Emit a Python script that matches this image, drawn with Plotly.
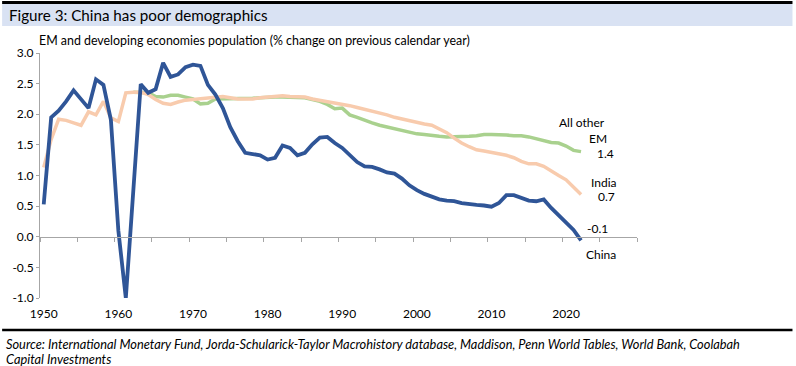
import plotly.graph_objects as go

years = list(range(1950, 2023))

china = [0.53, 1.95, 2.06, 2.21, 2.39, 2.25, 2.10, 2.57, 2.48, 1.91,
         0.10, -1.00, 0.80, 2.49, 2.35, 2.41, 2.84, 2.61, 2.65, 2.77,
         2.81, 2.79, 2.48, 2.32, 2.10, 1.79, 1.56, 1.37, 1.35, 1.33,
         1.26, 1.29, 1.49, 1.45, 1.33, 1.37, 1.51, 1.62, 1.63, 1.53,
         1.45, 1.34, 1.22, 1.15, 1.14, 1.10, 1.05, 1.03, 0.95, 0.84,
         0.76, 0.70, 0.65, 0.61, 0.59, 0.58, 0.55, 0.53, 0.52, 0.51,
         0.49, 0.55, 0.68, 0.68, 0.64, 0.59, 0.58, 0.61, 0.47, 0.35,
         0.24, 0.11, -0.06]

india = [1.13, 1.59, 1.92, 1.90, 1.86, 1.82, 2.04, 1.99, 2.21, 1.94,
         1.88, 2.35, 2.36, 2.36, 2.32, 2.24, 2.18, 2.16, 2.20, 2.23,
         2.24, 2.25, 2.26, 2.28, 2.29, 2.27, 2.25, 2.25, 2.25, 2.27,
         2.28, 2.30, 2.30, 2.29, 2.28, 2.28, 2.25, 2.23, 2.21, 2.19,
         2.17, 2.14, 2.11, 2.08, 2.06, 2.02, 1.99, 1.95, 1.92, 1.89,
         1.86, 1.84, 1.82, 1.76, 1.70, 1.61, 1.53, 1.47, 1.42, 1.40,
         1.38, 1.36, 1.33, 1.29, 1.23, 1.19, 1.19, 1.15, 1.07, 1.00,
         0.93, 0.80, 0.69]

other_years = list(range(1962, 2023))
other_em = [2.36, 2.36, 2.35, 2.29, 2.28, 2.31, 2.31, 2.28,
            2.25, 2.17, 2.18, 2.25, 2.25, 2.25, 2.25, 2.26, 2.26, 2.27,
            2.28, 2.28, 2.28, 2.28, 2.27, 2.27, 2.24, 2.21, 2.16, 2.09,
            2.10, 1.99, 1.95, 1.90, 1.86, 1.82, 1.79, 1.76, 1.73, 1.71,
            1.68, 1.67, 1.65, 1.64, 1.63, 1.63, 1.64, 1.64, 1.65, 1.67,
            1.67, 1.67, 1.66, 1.65, 1.65, 1.63, 1.60, 1.56, 1.54, 1.53,
            1.48, 1.41, 1.39]

y_tickvals = [-1.0, -0.5, 0.0, 0.5, 1.0, 1.5, 2.0, 2.5, 3.0]
y_ticktext = ["-1.0", "-0.5", "0.0", "0.5", "1.0", "1.5", "2.0", "2.5", "3.0"]
x_labels = [1950, 1960, 1970, 1980, 1990, 2000, 2010, 2020]
x_minor = [1949.5 + 5 * k for k in range(17)]

title_text = "Figure 3: China has poor demographics"
axis_title = "EM and developing economies population (% change on previous calendar year)"
source_line1 = ("Source: International Monetary Fund, Jorda-Schularick-Taylor Macrohistory database, "
                "Maddison, Penn World Tables, World Bank, Coolabah")
source_line2 = "Capital Investments"

W, H = 796, 366
L, R, T, B = 38, 159, 53, 68
PW, PH = W - L - R, H - T - B


def px(x):
    return (x - L) / PW


def py(y):
    return (H - B - y) / PH


FONT = "Lato"
GRAY = "#A6A6A6"
BLUE = "#2F5597"
PEACH = "#F8CBAD"
GREEN = "#A9D18E"

fig = go.Figure()
fig.add_trace(go.Scatter(x=other_years, y=other_em, mode="lines",
                         line=dict(color=GREEN, width=3.5), xaxis="x", yaxis="y",
                         name="All other EM", showlegend=False))
fig.add_trace(go.Scatter(x=years, y=india, mode="lines",
                         line=dict(color=PEACH, width=3.5), xaxis="x", yaxis="y",
                         name="India", showlegend=False))
fig.add_trace(go.Scatter(x=years, y=china, mode="lines",
                         line=dict(color=BLUE, width=3.8), xaxis="x2", yaxis="y",
                         name="China", showlegend=False))

xr = [1949.5, 2029.5]
fig.update_layout(
    width=W, height=H,
    margin=dict(l=L, r=R, t=T, b=B),
    paper_bgcolor="white", plot_bgcolor="white",
    font=dict(family=FONT, size=12, color="#000000"),
    xaxis=dict(range=xr, tickvals=x_labels, ticktext=[str(v) for v in x_labels],
               showline=False, showgrid=False, zeroline=False,
               ticks="outside", ticklen=5, tickcolor="rgba(0,0,0,0)",
               tickfont=dict(size=12, color="#000000")),
    xaxis2=dict(range=xr, overlaying="x", anchor="free", position=0.25,
                tickvals=x_minor, showticklabels=False, showline=True,
                linecolor=GRAY, linewidth=1, ticks="outside", ticklen=4,
                tickcolor=GRAY, showgrid=False, zeroline=False),
    yaxis=dict(range=[-1.0, 3.0], tickvals=y_tickvals, ticktext=y_ticktext,
               showline=True, linecolor=GRAY, linewidth=1, ticks="outside",
               ticklen=3, tickcolor=GRAY, showgrid=False, zeroline=False,
               tickfont=dict(size=12, color="#000000")),
)

shapes = [
    dict(type="rect", xref="paper", yref="paper", x0=px(0), x1=px(793),
         y0=py(26), y1=py(4), fillcolor="#D9E2F3", line=dict(width=0), layer="below"),
    dict(type="line", xref="paper", yref="paper", x0=px(0), x1=px(793),
         y0=py(2.5), y1=py(2.5), line=dict(color="#000000", width=3)),
    dict(type="line", xref="paper", yref="paper", x0=px(0), x1=px(793),
         y0=py(330), y1=py(330), line=dict(color="#000000", width=2.5)),
]
fig.update_layout(shapes=shapes)

ann = []
ann.append(dict(text=title_text, xref="paper", yref="paper", x=px(5), y=py(15),
                xanchor="left", yanchor="middle", showarrow=False,
                font=dict(size=15.2, color="#000000", family=FONT)))
ann.append(dict(text=axis_title, xref="paper", yref="paper", x=px(35), y=py(40),
                xanchor="left", yanchor="middle", showarrow=False,
                font=dict(size=12.4, color="#000000", family=FONT)))
src_font = dict(size=12.8, color="#000000", family=FONT)
ann.append(dict(text="<i>" + source_line1 + "</i>", xref="paper", yref="paper",
                x=px(2), y=py(344), xanchor="left", yanchor="middle",
                showarrow=False, font=src_font))
ann.append(dict(text="<i>" + source_line2 + "</i>", xref="paper", yref="paper",
                x=px(2), y=py(359), xanchor="left", yanchor="middle",
                showarrow=False, font=src_font))

lab_font = dict(size=12, color="#000000", family=FONT)
ann.append(dict(text="All other", xref="paper", yref="paper", x=px(582), y=py(122),
                xanchor="center", yanchor="middle", showarrow=False, font=lab_font))
ann.append(dict(text="EM", xref="paper", yref="paper", x=px(598), y=py(138),
                xanchor="center", yanchor="middle", showarrow=False, font=lab_font))
ann.append(dict(text=f"{other_em[-1]:.1f}", xref="paper", yref="paper", x=px(605), y=py(153),
                xanchor="center", yanchor="middle", showarrow=False, font=lab_font))
ann.append(dict(text="India", xref="paper", yref="paper", x=px(604), y=py(183),
                xanchor="center", yanchor="middle", showarrow=False, font=lab_font))
ann.append(dict(text=f"{india[-1]:.1f}", xref="paper", yref="paper", x=px(606), y=py(196),
                xanchor="center", yanchor="middle", showarrow=False, font=lab_font))
ann.append(dict(text=f"{china[-1]:.1f}", xref="paper", yref="paper", x=px(597), y=py(228),
                xanchor="center", yanchor="middle", showarrow=False, font=lab_font))
ann.append(dict(text="China", xref="paper", yref="paper", x=px(601), y=py(254),
                xanchor="center", yanchor="middle", showarrow=False, font=lab_font))
fig.update_layout(annotations=ann)

fig.write_html("out.html", config={"displayModeBar": False},
               post_script="document.body.style.margin='0px';")
